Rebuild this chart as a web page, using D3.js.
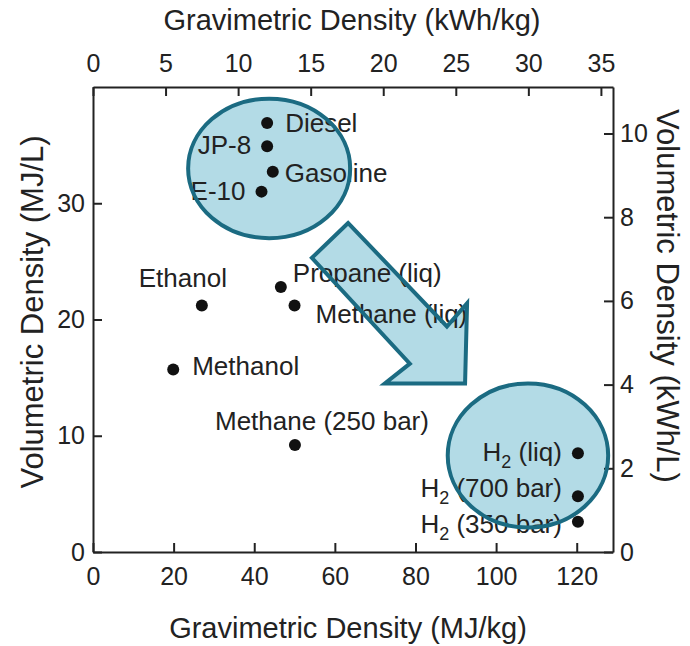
<!DOCTYPE html>
<html>
<head>
<meta charset="utf-8">
<script src="https://cdn.jsdelivr.net/npm/d3@7"></script>
<style>
  body { margin: 0; background: #fff; }
  svg text { font-family: "Liberation Sans", Arial, Helvetica, sans-serif; fill: #222; }
</style>
</head>
<body>
<svg width="690" height="646"></svg>
<script>
// fuels: gravimetric (MJ/kg) and volumetric (MJ/L) density
const fuels = ["Diesel", "JP-8", "Gasoline", "E-10", "Ethanol", "Propane (liq)", "Methane (liq)",
  "Methanol", "Methane (250 bar)", "H2 (liq)", "H2 (700 bar)", "H2 (350 bar)"];
const gravimetric = [43.2, 43.2, 44.6, 41.8, 27.0, 46.6, 50.0, 19.9, 50.1, 120.3, 120.3, 120.3];
const volumetric = [36.9, 34.9, 32.7, 31.0, 21.2, 22.8, 21.2, 15.7, 9.2, 8.5, 4.8, 2.6];

const xTicks = [0, 20, 40, 60, 80, 100, 120];
const yTicks = [0, 10, 20, 30];
const xTopTicks = [0, 5, 10, 15, 20, 25, 30, 35];
const yRightTicks = [0, 2, 4, 6, 8, 10];

// highlight shapes, in data units
const ellipses = [
  { cx: 43.7, cy: 33.0, rx: 20.1, ry: 6.0 },
  { cx: 107.9, cy: 8.3, rx: 19.9, ry: 6.2 }
];
const arrowPts = [[63.3, 28.3], [54.3, 25.3], [78.6, 16.2], [72.4, 14.5], [92.3, 14.5], [92.8, 21.4], [87.8, 19.4]];

// label placement: dx, dy, anchor
const labelPos = [
  [18, 9, "start"], [-16, 8, "end"], [12, 10, "start"], [-16, 8, "end"],
  [-19, -19, "middle"], [12, -5, "start"], [21, 17, "start"], [19, 6, "start"],
  [27, -15, "middle"], [-16, 8, "end"], [-16, 1, "end"], [-16, 11, "end"]
];

const svg = d3.select("svg");
const mLeft = 93, mRight = 613, mTop = 87, mBottom = 552;

const x = d3.scaleLinear().domain([0, 129]).range([mLeft, mRight]);
const y = d3.scaleLinear().domain([0, 40]).range([mBottom, mTop]);
const xTop = d3.scaleLinear().domain([0, 129 / 3.6]).range([mLeft, mRight]);
const yRight = d3.scaleLinear().domain([0, 40 / 3.6]).range([mBottom, mTop]);

const teal = "#1b6b82", fillBlue = "#b3dbe6";
const arrowPath = d3.line().x(d => x(d[0])).y(d => y(d[1])).curve(d3.curveLinearClosed);

// shape fills under everything
const shapes = svg.append("g");
shapes.selectAll("ellipse").data(ellipses).enter().append("ellipse")
  .attr("cx", d => x(d.cx)).attr("cy", d => y(d.cy))
  .attr("rx", d => x(d.rx) - x(0)).attr("ry", d => y(0) - y(d.ry))
  .attr("fill", fillBlue);
shapes.append("path").attr("d", arrowPath(arrowPts)).attr("fill", fillBlue);

function styleAxis(g, size) {
  g.selectAll("path").attr("stroke", "#222").attr("stroke-width", 2);
  g.selectAll("line").attr("stroke", "#222").attr("stroke-width", 2);
  g.selectAll("text").attr("font-size", size).attr("font-family", null).style("fill", "#222");
}

svg.append("g").attr("transform", `translate(0,${mBottom})`)
  .call(d3.axisBottom(x).tickValues(xTicks).tickSizeInner(-9).tickSizeOuter(0).tickPadding(15))
  .call(g => styleAxis(g, 25));
svg.append("g").attr("transform", `translate(${mLeft},0)`)
  .call(d3.axisLeft(y).tickValues(yTicks).tickSizeInner(-9).tickSizeOuter(0).tickPadding(8))
  .call(g => styleAxis(g, 25));
svg.append("g").attr("transform", `translate(0,${mTop})`)
  .call(d3.axisTop(xTop).tickValues(xTopTicks).tickSizeInner(-9).tickSizeOuter(0).tickPadding(15))
  .call(g => styleAxis(g, 25));
svg.append("g").attr("transform", `translate(${mRight},0)`)
  .call(d3.axisRight(yRight).tickValues(yRightTicks).tickSizeInner(-9).tickSizeOuter(0).tickPadding(7))
  .call(g => styleAxis(g, 25));

// axis titles
svg.append("text").attr("x", 352).attr("y", 30).attr("text-anchor", "middle")
  .attr("font-size", 29).text("Gravimetric Density (kWh/kg)");
svg.append("text").attr("x", 348).attr("y", 638).attr("text-anchor", "middle")
  .attr("font-size", 29).text("Gravimetric Density (MJ/kg)");
svg.append("text").attr("transform", "translate(43,312) rotate(-90)").attr("text-anchor", "middle")
  .attr("font-size", 31).text("Volumetric Density (MJ/L)");
svg.append("text").attr("transform", "translate(657,296) rotate(90)").attr("text-anchor", "middle")
  .attr("font-size", 31).text("Volumetric Density (kWh/L)");

// points
const pts = fuels.map((f, i) => ({ name: f, gx: gravimetric[i], vy: volumetric[i], pos: labelPos[i] }));
svg.append("g").selectAll("circle").data(pts).enter().append("circle")
  .attr("cx", d => x(d.gx)).attr("cy", d => y(d.vy)).attr("r", 6).attr("fill", "#111");

const labels = svg.append("g").selectAll("text").data(pts).enter().append("text")
  .attr("x", d => x(d.gx) + d.pos[0]).attr("y", d => y(d.vy) + d.pos[1])
  .attr("text-anchor", d => d.pos[2]).attr("font-size", 26);
labels.each(function(d) {
  const t = d3.select(this);
  if (d.name.startsWith("H2")) {
    t.append("tspan").text("H");
    t.append("tspan").attr("font-size", 18).attr("dy", 7).text("2");
    t.append("tspan").attr("dy", -7).text(d.name.slice(2));
  } else {
    t.text(d.name);
  }
});

// outlines drawn over the text
const outlines = svg.append("g").attr("fill", "none").attr("stroke", teal).attr("stroke-width", 4);
outlines.selectAll("ellipse").data(ellipses).enter().append("ellipse")
  .attr("cx", d => x(d.cx)).attr("cy", d => y(d.cy))
  .attr("rx", d => x(d.rx) - x(0)).attr("ry", d => y(0) - y(d.ry));
outlines.append("path").attr("d", arrowPath(arrowPts));
</script>
</body>
</html>
